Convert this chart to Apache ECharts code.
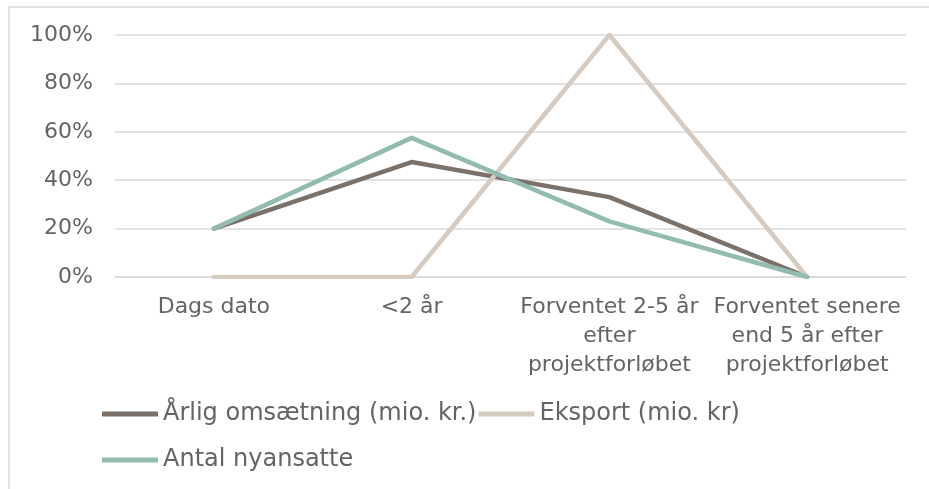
<!DOCTYPE html>
<html>
<head>
<meta charset="utf-8">
<script src="https://cdn.jsdelivr.net/npm/echarts@6/dist/echarts.min.js"></script>
<style>
  html, body { margin: 0; padding: 0; background: #fff; }
  #chart { width: 929px; height: 489px; }
</style>
</head>
<body>
<div id="chart"></div>
<script>
const categories = [
  'Dags dato',
  '<2 år',
  'Forventet 2-5 år\nefter\nprojektforløbet',
  'Forventet senere\nend 5 år efter\nprojektforløbet'
]
const omsaetning = [20, 47.5, 33, 0]
const eksport = [0, 0, 100, 0]
const nyansatte = [20, 57.5, 23, 0]
const yTicks = [0, 20, 40, 60, 80, 100]

const names = ['Årlig omsætning (mio. kr.)', 'Eksport (mio. kr)', 'Antal nyansatte']
const colors = ['#7b7169', '#d5cbc0', '#93bcb0']
const font = 'DejaVu Sans, Verdana, sans-serif'
const textColor = '#646464'

let myChart = echarts.init(document.getElementById('chart'))

function lineSeries(name, data, color) {
  return {
    name: name,
    type: 'line',
    data: data,
    symbol: 'none',
    smooth: false,
    color: color,
    lineStyle: { color: color, width: 4.5, cap: 'round', join: 'round' },
    animation: false
  }
}

let legendBase = {
  orient: 'horizontal',
  left: 102,
  padding: 0,
  icon: 'rect',
  itemWidth: 56,
  itemHeight: 5,
  itemGap: 2,
  textStyle: { fontFamily: font, fontSize: 24, color: textColor },
  selectedMode: false
}

let option = {
  backgroundColor: '#fff',
  graphic: [
    {
      type: 'rect',
      shape: { x: 9, y: 7, width: 960, height: 520 },
      style: { fill: 'none', stroke: '#d9d9d9', lineWidth: 1.5 },
      silent: true
    }
  ],
  grid: { left: 115, right: 23, top: 35, bottom: 212, containLabel: false },
  legend: [
    Object.assign({}, legendBase, { top: 402, data: [names[0], names[1]] }),
    Object.assign({}, legendBase, { top: 448, data: [names[2]] })
  ],
  xAxis: {
    type: 'category',
    data: categories,
    boundaryGap: true,
    axisLine: { show: true, lineStyle: { color: '#d9d9d9', width: 1.5 } },
    axisTick: { show: false },
    axisLabel: {
      interval: 0,
      margin: 16,
      fontFamily: font,
      fontSize: 22,
      lineHeight: 29,
      color: textColor,
      align: 'center'
    }
  },
  yAxis: {
    type: 'value',
    min: yTicks[0],
    max: yTicks[yTicks.length - 1],
    interval: 20,
    axisLine: { show: false },
    axisTick: { show: false },
    splitLine: { lineStyle: { color: '#d9d9d9', width: 1.5 } },
    axisLabel: {
      margin: 22,
      fontFamily: font,
      fontSize: 22,
      color: textColor,
      formatter: '{value}%'
    }
  },
  series: [
    lineSeries(names[0], omsaetning, colors[0]),
    lineSeries(names[1], eksport, colors[1]),
    lineSeries(names[2], nyansatte, colors[2])
  ]
}
myChart.setOption(option)
window.addEventListener('resize', function() {
  myChart.resize()
})
</script>
</body>
</html>
